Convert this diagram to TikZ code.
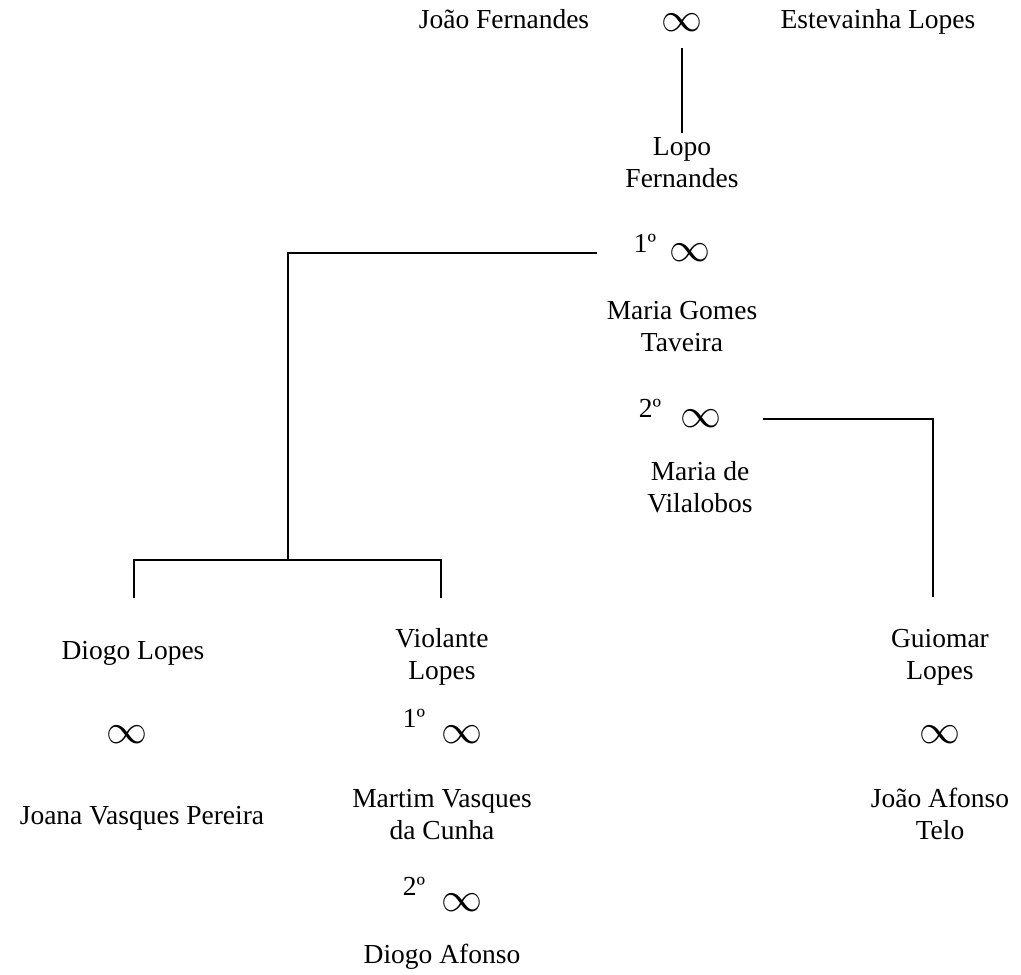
\documentclass[tikz,border=0pt]{standalone}
\usepackage{graphicx}
\usepackage{fontspec}
\setmainfont{Liberation Serif}
\newcommand{\lemn}{\scalebox{4.1}{$\infty$}}
\begin{document}
\begin{tikzpicture}[x=1pt,y=-1pt,
  nm/.style={inner sep=0pt,anchor=base,align=center,text height=19pt,text depth=6pt,
    font=\fontsize{27.5}{32}\selectfont},
  ord/.style={inner sep=0pt,anchor=base,font=\fontsize{27.5}{32}\selectfont},
  inf/.style={inner sep=0pt,anchor=base,yshift=-8.8pt,text height=18pt,text depth=1pt},
  ln/.style={line width=1.3pt}]
\useasboundingbox (0,0) rectangle (1021,975);
% top couple
\node[nm] (jf) at (504,28) {João Fernandes};
\node[inf] (i0) at (682,23) {\lemn};
\node[nm] (el) at (878,28) {Estevainha Lopes};
\node[nm] (lf) at (682,187) {Lopo\\Fernandes};
% first marriage
\node[ord] (o1) at (645,252) {1º};
\node[inf] (i1) at (690,253) {\lemn};
\node[nm] (mg) at (682,351) {Maria Gomes\\Taveira};
% second marriage
\node[ord] (o2) at (650,417) {2º};
\node[inf] (i2) at (701,419) {\lemn};
\node[nm] (mv) at (700,512) {Maria de\\Vilalobos};
% children
\node[nm] (dl) at (133,659) {Diogo Lopes};
\node[nm] (vl) at (442,679) {Violante\\Lopes};
\node[nm] (gl) at (940,679) {Guiomar\\Lopes};
\node[inf] (i3) at (127,735) {\lemn};
\node[ord] (o3) at (414,727) {1º};
\node[inf] (i4) at (462,735) {\lemn};
\node[inf] (i5) at (940,735) {\lemn};
\node[nm] (jv) at (142,824) {Joana Vasques Pereira};
\node[nm] (mc) at (442,839) {Martim Vasques\\da Cunha};
\node[nm] (ja) at (940,839) {João Afonso\\Telo};
\node[ord] (o4) at (414,895) {2º};
\node[inf] (i6) at (462,903) {\lemn};
\node[nm] (da) at (442,963) {Diogo Afonso};
% connector points
\coordinate (t0) at (682,48);
\coordinate (t1) at (682,133);
\coordinate (a1) at (597,253);
\coordinate (a2) at (288,560);
\coordinate (b1) at (134,598);
\coordinate (b2) at (441,598);
\coordinate (c1) at (763,419);
\coordinate (c2) at (933,597);
\draw[ln] (t0) -- (t1);
\draw[ln] (a1) -| (a2);
\draw[ln] (b1) |- (a2) -| (b2);
\draw[ln] (c1) -| (c2);
\end{tikzpicture}
\end{document}
